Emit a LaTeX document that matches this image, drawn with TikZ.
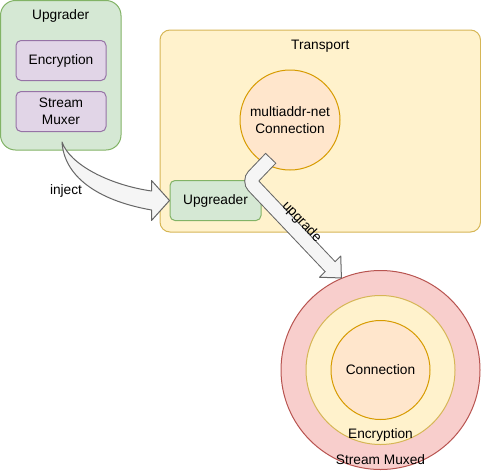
\documentclass[tikz,border=0pt]{standalone}
\usepackage{fontspec}
\setmainfont{Liberation Sans}
\usetikzlibrary{calc}
\usetikzlibrary{positioning}

\definecolor{greenfill}{HTML}{D5E8D4}
\definecolor{greenline}{HTML}{82B366}
\definecolor{purplefill}{HTML}{E1D5E7}
\definecolor{purpleline}{HTML}{9673A6}
\definecolor{yellowfill}{HTML}{FFF2CC}
\definecolor{yellowline}{HTML}{D6B656}
\definecolor{orangefill}{HTML}{FFE6CC}
\definecolor{orangeline}{HTML}{D79B00}
\definecolor{redfill}{HTML}{F8CECC}
\definecolor{redline}{HTML}{B85450}
\definecolor{arrowfill}{HTML}{F5F5F5}
\definecolor{arrowline}{HTML}{666666}

\begin{document}
\begin{tikzpicture}[x=1pt,y=-1pt,
	every node/.style={font=\fontsize{13.7}{16.5}\selectfont,inner sep=0pt,align=center},
	greenbox/.style={draw=greenline,fill=greenfill,line width=1pt},
	purplebox/.style={draw=purpleline,fill=purplefill,line width=1pt,rounded corners=5pt,minimum width=90pt,minimum height=40pt},
	ring/.style={circle,line width=1pt}]
	\useasboundingbox (0,0) rectangle (481,471);

	% upgrader
	\node[greenbox,rounded corners=15pt,minimum width=120.5pt,minimum height=149.5pt] (upgrader) at (60.75,75.25) {};
	\node (upgradertitle) at (60.75,16) {Upgrader};
	\node[purplebox] (enc) at (61,60.5) {Encryption};
	\node[purplebox] (mux) [below=10pt of enc] {Stream\\Muxer};

	% transport
	\node[draw=yellowline,fill=yellowfill,line width=1pt,rounded corners=10pt,minimum width=320.5pt,minimum height=202pt] (transport) at (320.25,131) {};
	\node (transporttitle) at (320.25,46) {Transport};
	\node[ring,draw=orangeline,fill=orangefill,minimum size=100pt] (conn) at (290,120) {multiaddr-net\\Connection};
	\node[greenbox,rounded corners=5pt,minimum width=91pt,minimum height=40pt] (upg) at (215.5,200.5) {Upgreader};

	% upgraded connection
	\node[ring,draw=redline,fill=redfill,minimum size=199pt] (muxed) at (380.5,370) {};
	\node[ring,draw=yellowline,fill=yellowfill,minimum size=149pt] (encring) at (380.5,370) {};
	\node[ring,draw=orangeline,fill=orangefill,minimum size=99pt] (connring) at (380.5,370) {Connection};
	\node (enclabel) at (380.5,435) {Encryption};
	\node (muxlabel) at (380.5,460) {Stream Muxed};

	% inject
	\coordinate (injstart) at ($(mux.south)+(1,10)$);
	\coordinate (injbase) at ($(upg.west)+(-18,0)$);
	\draw[draw=arrowline,fill=arrowfill,line width=1pt,line join=round]
		(injstart) .. controls (70,165) and (110,185) .. ($(injbase)+(0,-9.5)$)
		-- ($(injbase)+(0,-20)$) -- (upg.west) -- ($(injbase)+(0,20)$) -- ($(injbase)+(0,9.5)$)
		.. controls (95,200) and (64,175) .. (injstart) -- cycle;
	\node (injlabel) at (66,191) {inject};

	% upgrade
	\coordinate (upstart) at ($(conn.center)+(-19,38)$);
	\coordinate (upbend) at (249,181);
	\coordinate (uptip) at (muxed.113);
	\coordinate (upbase) at ($(uptip)+(-11.3,-11.3)$);
	\draw[arrowline,line width=15pt,rounded corners=7pt] (upstart) -- (upbend) -- (upbase);
	\draw[draw=arrowline,fill=arrowfill,line width=1pt,line join=round]
		($(upbase)+(10.6,-10.6)$) -- (uptip) -- ($(upbase)+(-10.6,10.6)$) -- cycle;
	\draw[arrowfill,line width=13pt,rounded corners=7pt,shorten <=1pt,shorten >=-1.5pt] (upstart) -- (upbend) -- (upbase);
	\path (upbend) -- (upbase) node[pos=0.56,sloped,above=3.5pt] (uplabel) {upgrade};
\end{tikzpicture}
\end{document}
